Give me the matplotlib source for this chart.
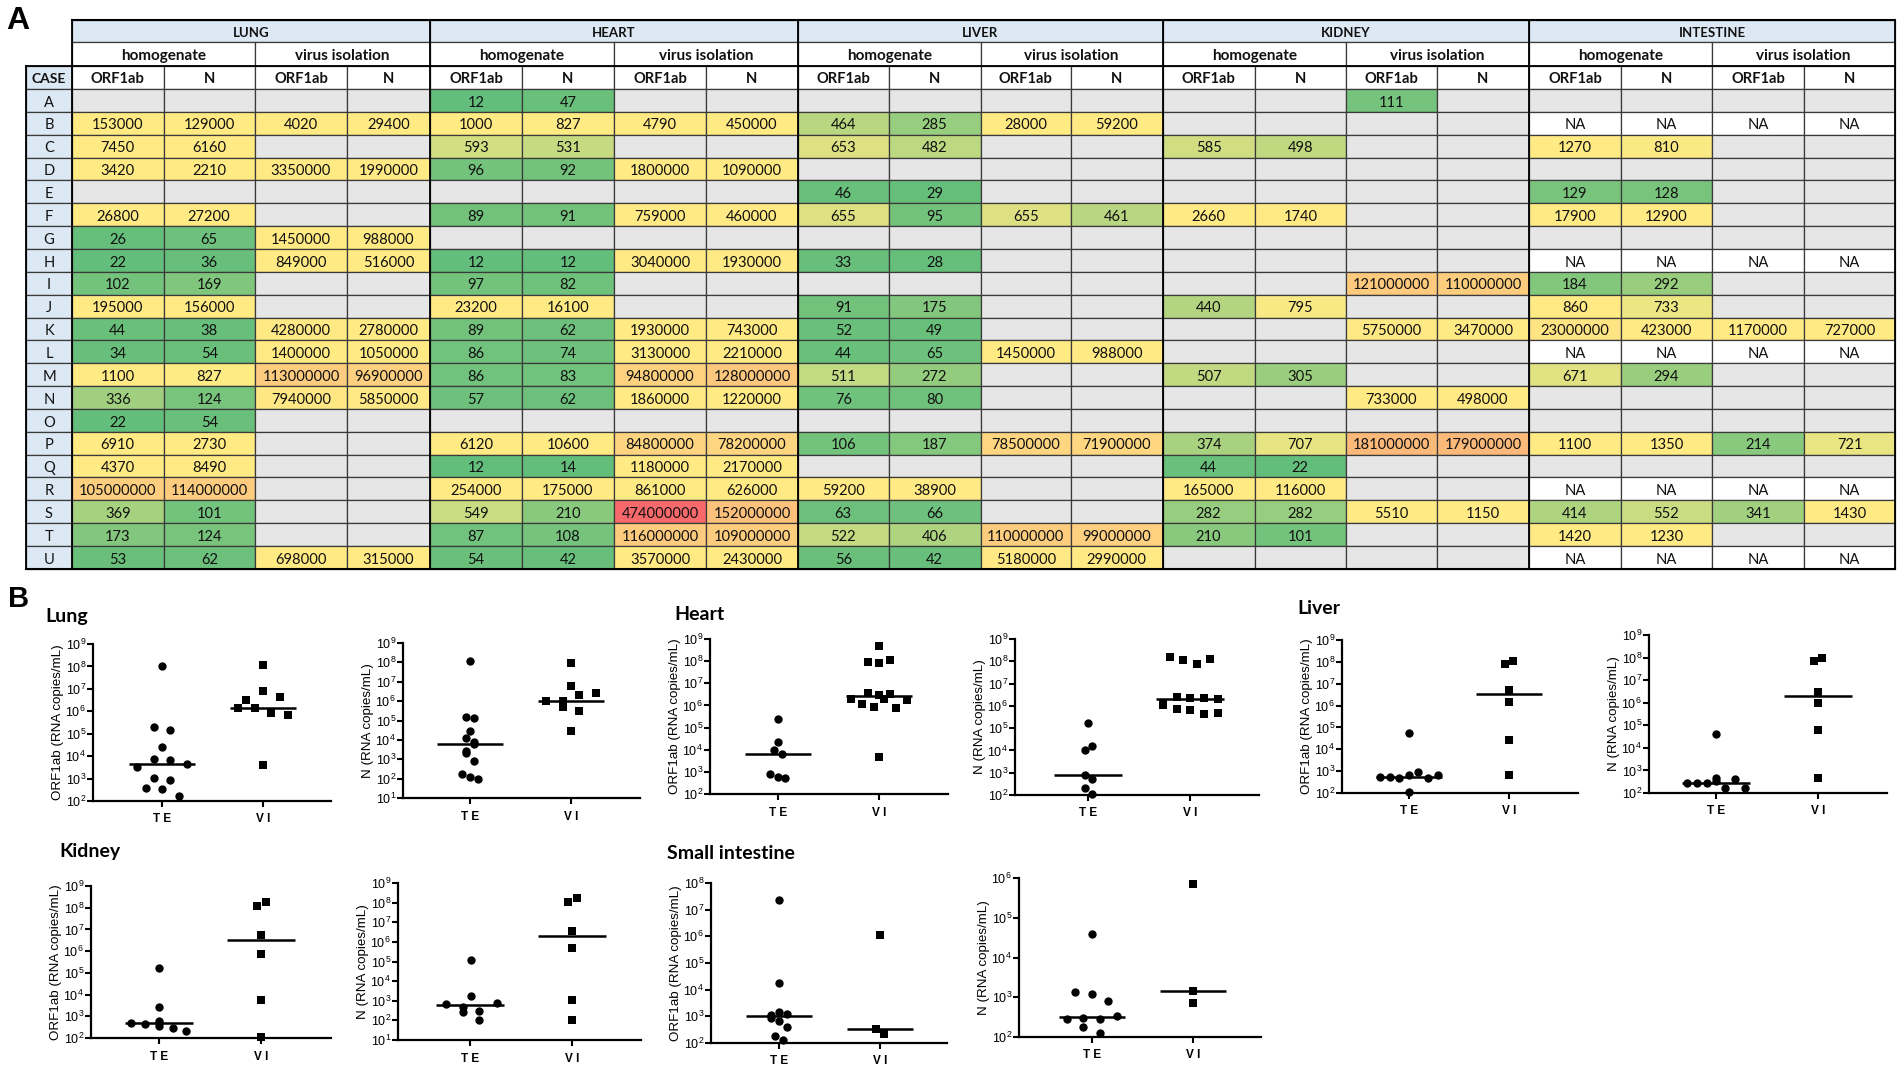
import matplotlib
matplotlib.use("Agg")
import matplotlib.pyplot as plt
from matplotlib.colors import LinearSegmentedColormap, TwoSlopeNorm
from matplotlib.patches import Rectangle

plt.rcParams["font.family"] = ["Liberation Sans", "DejaVu Sans"]

W, H = 1902, 1073

# ---- table data, one list per organ: homogenate ORF1ab, N, virus isolation ORF1ab, N
cases = list("ABCDEFGHIJKLMNOPQRSTU")
organs = ["LUNG", "HEART", "LIVER", "KIDNEY", "INTESTINE"]
e = [None, None, None, None]
na = ["NA", "NA", "NA", "NA"]

lung = [e, [153000, 129000, 4020, 29400], [7450, 6160, None, None],
        [3420, 2210, 3350000, 1990000], e, [26800, 27200, None, None],
        [26, 65, 1450000, 988000], [22, 36, 849000, 516000], [102, 169, None, None],
        [195000, 156000, None, None], [44, 38, 4280000, 2780000],
        [34, 54, 1400000, 1050000], [1100, 827, 113000000, 96900000],
        [336, 124, 7940000, 5850000], [22, 54, None, None], [6910, 2730, None, None],
        [4370, 8490, None, None], [105000000, 114000000, None, None],
        [369, 101, None, None], [173, 124, None, None], [53, 62, 698000, 315000]]

heart = [[12, 47, None, None], [1000, 827, 4790, 450000], [593, 531, None, None],
         [96, 92, 1800000, 1090000], e, [89, 91, 759000, 460000], e,
         [12, 12, 3040000, 1930000], [97, 82, None, None], [23200, 16100, None, None],
         [89, 62, 1930000, 743000], [86, 74, 3130000, 2210000],
         [86, 83, 94800000, 128000000], [57, 62, 1860000, 1220000], e,
         [6120, 10600, 84800000, 78200000], [12, 14, 1180000, 2170000],
         [254000, 175000, 861000, 626000], [549, 210, 474000000, 152000000],
         [87, 108, 116000000, 109000000], [54, 42, 3570000, 2430000]]

liver = [e, [464, 285, 28000, 59200], [653, 482, None, None], e,
         [46, 29, None, None], [655, 95, 655, 461], e, [33, 28, None, None], e,
         [91, 175, None, None], [52, 49, None, None], [44, 65, 1450000, 988000],
         [511, 272, None, None], [76, 80, None, None], e,
         [106, 187, 78500000, 71900000], e, [59200, 38900, None, None],
         [63, 66, None, None], [522, 406, 110000000, 99000000],
         [56, 42, 5180000, 2990000]]

kidney = [[None, None, 111, None], e, [585, 498, None, None], e, e,
          [2660, 1740, None, None], e, e, [None, None, 121000000, 110000000],
          [440, 795, None, None], [None, None, 5750000, 3470000], e,
          [507, 305, None, None], [None, None, 733000, 498000], e,
          [374, 707, 181000000, 179000000], [44, 22, None, None],
          [165000, 116000, None, None], [282, 282, 5510, 1150],
          [210, 101, None, None], e]

intestine = [e, na, [1270, 810, None, None], e, [129, 128, None, None],
             [17900, 12900, None, None], e, na, [184, 292, None, None],
             [860, 733, None, None], [23000000, 423000, 1170000, 727000], na,
             [671, 294, None, None], e, e, [1100, 1350, 214, 721], e, na,
             [414, 552, 341, 1430], [1420, 1230, None, None], na]

# ---- scatter data: values and sideways offsets
lung_orf_te = [105000000, 195000, 153000, 26800, 7450, 6910, 4370, 3420, 1100, 827, 369, 336, 173]
lung_orf_te_dx = [0, -.08, .08, 0, -.08, .08, .25, -.25, -.08, .08, -.16, 0, .17]
lung_orf_vi = [113000000, 7940000, 3350000, 4280000, 1450000, 1400000, 849000, 698000, 4020]
lung_orf_vi_dx = [0, 0, -.167, .167, -.25, -.083, .083, .25, 0]

lung_n_te = [114000000, 156000, 129000, 27200, 12000, 7500, 6160, 2730, 2210, 827, 169, 124, 101]
lung_n_te_dx = [0, -.04, .04, 0, -.04, .04, .04, -.04, -.04, .04, -.08, 0, .08]
lung_n_vi = [96900000, 5850000, 2780000, 1990000, 1050000, 988000, 516000, 315000, 29400]
lung_n_vi_dx = [0, 0, .25, .08, -.25, -.08, -.08, .08, 0]

heart_orf_te = [254000, 23200, 10000, 6120, 827, 593, 549]
heart_orf_te_dx = [0, 0, -.04, .04, -.08, 0, .07]
heart_orf_vi = [474000000, 94800000, 84800000, 116000000, 3570000, 3040000, 3130000,
                1860000, 1930000, 1800000, 1180000, 861000, 759000, 4790]
heart_orf_vi_dx = [0, -.11, 0, .11, -.11, 0, .11, -.28, .054, .28, -.17, -.054, .17, 0]

heart_n_te = [175000, 16100, 10600, 827, 531, 210, 108]
heart_n_te_dx = [0, .04, -.03, -.03, .04, -.03, .04]
heart_n_vi = [152000000, 109000000, 78200000, 128000000, 2430000, 2170000, 2210000,
              1930000, 1220000, 1090000, 743000, 626000, 450000, 460000]
heart_n_vi_dx = [-.195, -.066, .066, .2, -.13, 0, .14, .27, -.26, -.26, -.13, 0, .14, .27]

liver_orf_te = [55000, 540, 520, 480, 655, 880, 480, 650, 106]
liver_orf_te_dx = [0, -.29, -.19, -.096, 0, .09, .19, .29, 0]
liver_orf_vi = [78500000, 110000000, 5180000, 1450000, 28000, 655]
liver_orf_vi_dx = [-.04, .04, 0, 0, 0, 0]

liver_n_te = [40000, 285, 285, 275, 461, 350, 175, 400, 175]
liver_n_te_dx = [0, -.28, -.19, -.09, 0, 0, .09, .19, .28]
liver_n_vi = [71900000, 99000000, 2990000, 988000, 59200, 461]
liver_n_vi_dx = [-.04, .04, 0, 0, 0, 0]

kidney_orf_te = [170000, 2660, 510, 440, 585, 507, 374, 282, 210]
kidney_orf_te_dx = [0, 0, -.27, -.135, 0, 0, 0, .135, .26]
kidney_orf_vi = [121000000, 181000000, 5750000, 733000, 5510, 111]
kidney_orf_vi_dx = [-.035, .045, 0, 0, 0, 0]

kidney_n_te = [116000, 1740, 795, 707, 498, 305, 282, 101]
kidney_n_te_dx = [.01, .01, .26, -.24, -.07, .09, -.07, .09]
kidney_n_vi = [110000000, 179000000, 3470000, 498000, 1150, 101]
kidney_n_vi_dx = [-.035, .045, 0, 0, 0, 0]

intestine_orf_te = [23000000, 17900, 1420, 1270, 1100, 860, 671, 414, 184, 129]
intestine_orf_te_dx = [0, 0, 0, .08, -.076, -.076, 0, .08, -.04, .04]
intestine_orf_vi = [1170000, 341, 214]
intestine_orf_vi_dx = [0, -.044, .036]

intestine_n_te = [39000, 1350, 1230, 810, 340, 292, 294, 292, 175, 128]
intestine_n_te_dx = [0, -.17, 0, .16, .25, -.25, -.085, .08, -.085, .08]
intestine_n_vi = [727000, 1430, 721]
intestine_n_vi_dx = [0, 0, 0]

# medians (TE, VI)
lung_orf_med = [4400, 1400000]
lung_n_med = [6200, 1050000]
heart_orf_med = [6120, 2700000]
heart_n_med = [827, 2050000]
liver_orf_med = [540, 3300000]
liver_n_med = [285, 2000000]
kidney_orf_med = [500, 3300000]
kidney_n_med = [600, 2000000]
intestine_orf_med = [1000, 340]
intestine_n_med = [320, 1430]

fig = plt.figure(figsize=(W / 100, H / 100), dpi=100, facecolor="white")

# page axes in pixel coordinates, for the table and the headings
page = fig.add_axes([0, 0, 1, 1])
page.set_xlim(0, W)
page.set_ylim(H, 0)
page.axis("off")

col_edges = [72, 163.5, 255, 347, 430, 522, 614, 706, 798, 888.5, 980.6, 1071, 1162.6,
             1254.7, 1346, 1437, 1529, 1621, 1712, 1804, 1895]
case_left = 26
y_organ, y_sub, y_col, y_body = 20, 42, 65.5, 89
row_h = 22.85

cmap = LinearSegmentedColormap.from_list("gyr", ["#63BE7B", "#FFEB84", "#F8696B"])
norm = TwoSlopeNorm(vmin=12, vcenter=830, vmax=474000000)
header_blue = "#DCE9F5"
grid = "#3a3a3a"
table_font = ["Lato", "DejaVu Sans"]


def cell(x0, x1, y0, y1, color, label=None, size=10.6, weight="normal"):
    page.add_patch(Rectangle((x0, y0), x1 - x0, y1 - y0, facecolor=color,
                             edgecolor=grid, linewidth=0.9, zorder=1))
    if label is not None:
        page.text((x0 + x1) / 2, (y0 + y1) / 2 + 2.2, label, ha="center", va="center",
                  fontsize=size, fontweight=weight, family=table_font, color="#111111", zorder=4)


for k, organ in enumerate(organs):
    cell(col_edges[k * 4], col_edges[k * 4 + 4], y_organ, y_sub, header_blue, organ, size=9.5, weight="bold")
    cell(col_edges[k * 4], col_edges[k * 4 + 2], y_sub, y_col, "white", "homogenate", size=11, weight="bold")
    cell(col_edges[k * 4 + 2], col_edges[k * 4 + 4], y_sub, y_col, "white", "virus isolation", size=11, weight="bold")

cell(case_left, col_edges[0], y_col, y_body, header_blue, "CASE", size=10, weight="bold")
for j in range(20):
    cell(col_edges[j], col_edges[j + 1], y_col, y_body, "white",
         "ORF1ab" if j % 2 == 0 else "N", size=10.6, weight="bold")

for i, case in enumerate(cases):
    top = y_body + i * row_h
    cell(case_left, col_edges[0], top, top + row_h, header_blue, case)
    for k, table in enumerate([lung, heart, liver, kidney, intestine]):
        for j, val in enumerate(table[i]):
            x0, x1 = col_edges[k * 4 + j], col_edges[k * 4 + j + 1]
            if val is None:
                cell(x0, x1, top, top + row_h, "#E6E6E6")
            elif val == "NA":
                cell(x0, x1, top, top + row_h, "white", "NA")
            else:
                cell(x0, x1, top, top + row_h, cmap(norm(val)), str(val))

# heavier lines around header rows and between organs
bottom = y_body + 21 * row_h
for k in range(6):
    page.plot([col_edges[k * 4]] * 2, [y_organ, bottom], color="black", lw=1.3, zorder=3)
page.plot([col_edges[0], col_edges[-1]], [y_organ, y_organ], color="black", lw=1.5, zorder=3)
page.plot([case_left, col_edges[-1]], [y_col, y_col], color="black", lw=1.3, zorder=3)
page.plot([case_left, col_edges[-1]], [bottom, bottom], color="black", lw=1.5, zorder=3)
page.plot([case_left, case_left], [y_col, bottom], color="black", lw=1.3, zorder=3)

page.text(6, 29, "A", fontsize=23, fontweight="bold", ha="left", va="baseline")
page.text(8, 607, "B", fontsize=21, fontweight="bold", ha="left", va="baseline")

for name, x, y in [("Lung", 45, 622), ("Heart", 674, 620), ("Liver", 1297, 614),
                   ("Kidney", 59, 857), ("Small intestine", 667, 859)]:
    page.text(x, y, name, fontsize=14, fontweight="bold", family=table_font, ha="left", va="baseline")


def panel(spine, bottom_y, top_y, end, te_x, vi_x, low, high, ylabel,
          te, te_dx, vi, vi_dx, med):
    ax = fig.add_axes([spine / W, 1 - bottom_y / H, (end - spine) / W, (bottom_y - top_y) / H])
    ax.patch.set_alpha(0)
    unit = vi_x - te_x
    ax.set_xlim(1 - (te_x - spine) / unit, 1 + (end - te_x) / unit)
    ax.set_yscale("log")
    ax.set_ylim(10.0 ** low, 10.0 ** high)
    ax.minorticks_off()
    ticks = [10.0 ** p for p in range(low, high + 1)]
    ax.set_yticks(ticks)
    ax.set_yticklabels([r"$\mathregular{10^{%d}}$" % p for p in range(low, high + 1)])
    ax.set_xticks([1, 2])
    ax.set_xticklabels(["T E", "V I"], fontsize=8.5, fontweight="bold")
    ax.tick_params(axis="y", labelsize=9, width=1.5, length=4, pad=1)
    ax.tick_params(axis="x", width=1.5, length=4, pad=5)
    for side in ["top", "right"]:
        ax.spines[side].set_visible(False)
    for side in ["left", "bottom"]:
        ax.spines[side].set_linewidth(1.6)
    ax.set_ylabel(ylabel, fontsize=9.6, labelpad=1)
    ax.plot([1 + d for d in te_dx], te, "o", color="black", ms=6, mew=0, clip_on=False, zorder=5)
    ax.plot([2 + d for d in vi_dx], vi, "s", color="black", ms=5.6, mew=0, clip_on=False, zorder=5)
    ax.hlines(med[0], 0.67, 1.33, color="black", lw=1.8, zorder=6)
    ax.hlines(med[1], 1.67, 2.33, color="black", lw=1.8, zorder=6)


orf_label = "ORF1ab (RNA copies/mL)"
n_label = "N (RNA copies/mL)"

panel(93, 801, 644, 331, 162, 263, 2, 9, orf_label, lung_orf_te, lung_orf_te_dx, lung_orf_vi, lung_orf_vi_dx, lung_orf_med)
panel(403, 798, 643, 640, 470, 571, 1, 9, n_label, lung_n_te, lung_n_te_dx, lung_n_vi, lung_n_vi_dx, lung_n_med)
panel(710, 794, 639, 948, 778, 879, 2, 9, orf_label, heart_orf_te, heart_orf_te_dx, heart_orf_vi, heart_orf_vi_dx, heart_orf_med)
panel(1015, 795, 639, 1259, 1088, 1190, 2, 9, n_label, heart_n_te, heart_n_te_dx, heart_n_vi, heart_n_vi_dx, heart_n_med)
panel(1342, 793, 640, 1578, 1409, 1509, 2, 9, orf_label, liver_orf_te, liver_orf_te_dx, liver_orf_vi, liver_orf_vi_dx, liver_orf_med)
panel(1649, 793, 635, 1887, 1716, 1818, 2, 9, n_label, liver_n_te, liver_n_te_dx, liver_n_vi, liver_n_vi_dx, liver_n_med)
panel(91, 1038, 886, 331, 159, 261, 2, 9, orf_label, kidney_orf_te, kidney_orf_te_dx, kidney_orf_vi, kidney_orf_vi_dx, kidney_orf_med)
panel(398, 1040, 883, 641, 470, 572, 1, 9, n_label, kidney_n_te, kidney_n_te_dx, kidney_n_vi, kidney_n_vi_dx, kidney_n_med)
panel(711, 1043, 883, 947, 779, 880, 2, 8, orf_label, intestine_orf_te, intestine_orf_te_dx, intestine_orf_vi, intestine_orf_vi_dx, intestine_orf_med)
panel(1019, 1037, 878, 1261, 1092, 1193, 2, 6, n_label, intestine_n_te, intestine_n_te_dx, intestine_n_vi, intestine_n_vi_dx, intestine_n_med)

fig.savefig("out.png", dpi=100)
